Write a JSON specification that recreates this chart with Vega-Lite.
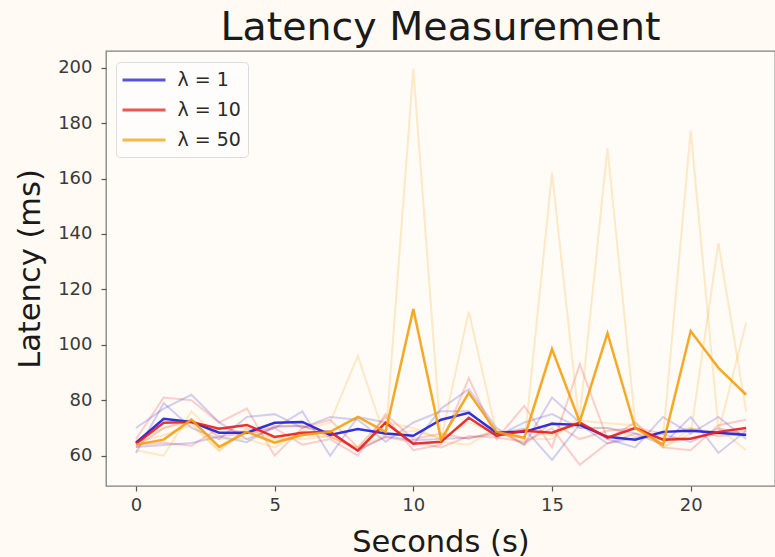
{
  "$schema": "https://vega.github.io/schema/vega-lite/v6.json",
  "width": 669,
  "height": 435,
  "autosize": {"type": "none"},
  "padding": {"left": 106, "top": 51, "right": 0, "bottom": 71},
  "background": "#fffaf4",
  "title": {"text": "Latency Measurement", "fontSize": 39.5, "font": "DejaVu Sans", "fontWeight": "normal", "color": "#1a1a1a", "offset": 3, "anchor": "middle"},
  "config": {
    "view": {"stroke": "#808080", "strokeWidth": 1.3, "fill": "#fffbf6"},
    "axis": {"grid": false, "labelFont": "DejaVu Sans", "titleFont": "DejaVu Sans", "labelFontSize": 18, "labelColor": "#3a3a3a", "titleFontSize": 30.5, "titleFontWeight": "normal", "titleColor": "#1a1a1a", "tickColor": "#555555", "tickSize": 5, "tickWidth": 1.2, "domain": false},
    "legend": {"title": null, "orient": "none", "legendX": 10, "legendY": 11, "symbolType": "M-2.15,0H2.15", "symbolSize": 400, "symbolOffset": 10, "symbolStrokeWidth": 3, "symbolOpacity": 0.75, "labelFont": "DejaVu Sans", "labelFontSize": 19, "labelColor": "#2a2a2a", "rowPadding": 8, "padding": 6.5, "fillColor": "#fffdfb", "strokeColor": "#dcdcdc", "cornerRadius": 4, "labelOffset": 22}
  },
  "datasets": {
    "runs": [
      {"series": "λ = 1", "run": "b1", "t": 0, "v": 70}, {"series": "λ = 1", "run": "b1", "t": 1, "v": 77}, {"series": "λ = 1", "run": "b1", "t": 2, "v": 82}, {"series": "λ = 1", "run": "b1", "t": 3, "v": 72}, {"series": "λ = 1", "run": "b1", "t": 4, "v": 66}, {"series": "λ = 1", "run": "b1", "t": 5, "v": 70}, {"series": "λ = 1", "run": "b1", "t": 6, "v": 76}, {"series": "λ = 1", "run": "b1", "t": 7, "v": 60}, {"series": "λ = 1", "run": "b1", "t": 8, "v": 74}, {"series": "λ = 1", "run": "b1", "t": 9, "v": 72}, {"series": "λ = 1", "run": "b1", "t": 10, "v": 64}, {"series": "λ = 1", "run": "b1", "t": 11, "v": 77}, {"series": "λ = 1", "run": "b1", "t": 12, "v": 84}, {"series": "λ = 1", "run": "b1", "t": 13, "v": 70}, {"series": "λ = 1", "run": "b1", "t": 14, "v": 64}, {"series": "λ = 1", "run": "b1", "t": 15, "v": 81}, {"series": "λ = 1", "run": "b1", "t": 16, "v": 72}, {"series": "λ = 1", "run": "b1", "t": 17, "v": 66}, {"series": "λ = 1", "run": "b1", "t": 18, "v": 63}, {"series": "λ = 1", "run": "b1", "t": 19, "v": 74}, {"series": "λ = 1", "run": "b1", "t": 20, "v": 68}, {"series": "λ = 1", "run": "b1", "t": 21, "v": 74}, {"series": "λ = 1", "run": "b1", "t": 22, "v": 66},
      {"series": "λ = 1", "run": "b2", "t": 0, "v": 61}, {"series": "λ = 1", "run": "b2", "t": 1, "v": 79}, {"series": "λ = 1", "run": "b2", "t": 2, "v": 70}, {"series": "λ = 1", "run": "b2", "t": 3, "v": 66}, {"series": "λ = 1", "run": "b2", "t": 4, "v": 74}, {"series": "λ = 1", "run": "b2", "t": 5, "v": 75}, {"series": "λ = 1", "run": "b2", "t": 6, "v": 70}, {"series": "λ = 1", "run": "b2", "t": 7, "v": 74}, {"series": "λ = 1", "run": "b2", "t": 8, "v": 73}, {"series": "λ = 1", "run": "b2", "t": 9, "v": 65}, {"series": "λ = 1", "run": "b2", "t": 10, "v": 72}, {"series": "λ = 1", "run": "b2", "t": 11, "v": 76}, {"series": "λ = 1", "run": "b2", "t": 12, "v": 76}, {"series": "λ = 1", "run": "b2", "t": 13, "v": 67}, {"series": "λ = 1", "run": "b2", "t": 14, "v": 72}, {"series": "λ = 1", "run": "b2", "t": 15, "v": 75}, {"series": "λ = 1", "run": "b2", "t": 16, "v": 70}, {"series": "λ = 1", "run": "b2", "t": 17, "v": 70}, {"series": "λ = 1", "run": "b2", "t": 18, "v": 68}, {"series": "λ = 1", "run": "b2", "t": 19, "v": 64}, {"series": "λ = 1", "run": "b2", "t": 20, "v": 74}, {"series": "λ = 1", "run": "b2", "t": 21, "v": 61}, {"series": "λ = 1", "run": "b2", "t": 22, "v": 69},
      {"series": "λ = 1", "run": "b3", "t": 0, "v": 63.1}, {"series": "λ = 1", "run": "b3", "t": 1, "v": 63.9}, {"series": "λ = 1", "run": "b3", "t": 2, "v": 64.6}, {"series": "λ = 1", "run": "b3", "t": 3, "v": 66.9}, {"series": "λ = 1", "run": "b3", "t": 4, "v": 64.9}, {"series": "λ = 1", "run": "b3", "t": 5, "v": 70.7}, {"series": "λ = 1", "run": "b3", "t": 6, "v": 70.6}, {"series": "λ = 1", "run": "b3", "t": 7, "v": 68.5}, {"series": "λ = 1", "run": "b3", "t": 8, "v": 61.8}, {"series": "λ = 1", "run": "b3", "t": 9, "v": 67}, {"series": "λ = 1", "run": "b3", "t": 10, "v": 65.6}, {"series": "λ = 1", "run": "b3", "t": 11, "v": 66}, {"series": "λ = 1", "run": "b3", "t": 12, "v": 66.5}, {"series": "λ = 1", "run": "b3", "t": 13, "v": 67.9}, {"series": "λ = 1", "run": "b3", "t": 14, "v": 69.8}, {"series": "λ = 1", "run": "b3", "t": 15, "v": 58.5}, {"series": "λ = 1", "run": "b3", "t": 16, "v": 71.3}, {"series": "λ = 1", "run": "b3", "t": 17, "v": 64.4}, {"series": "λ = 1", "run": "b3", "t": 18, "v": 66.4}, {"series": "λ = 1", "run": "b3", "t": 19, "v": 67.8}, {"series": "λ = 1", "run": "b3", "t": 20, "v": 65}, {"series": "λ = 1", "run": "b3", "t": 21, "v": 69.9}, {"series": "λ = 1", "run": "b3", "t": 22, "v": 67.5},
      {"series": "λ = 10", "run": "r1", "t": 0, "v": 66}, {"series": "λ = 10", "run": "r1", "t": 1, "v": 81}, {"series": "λ = 10", "run": "r1", "t": 2, "v": 80}, {"series": "λ = 10", "run": "r1", "t": 3, "v": 72}, {"series": "λ = 10", "run": "r1", "t": 4, "v": 77}, {"series": "λ = 10", "run": "r1", "t": 5, "v": 60}, {"series": "λ = 10", "run": "r1", "t": 6, "v": 70}, {"series": "λ = 10", "run": "r1", "t": 7, "v": 73}, {"series": "λ = 10", "run": "r1", "t": 8, "v": 63}, {"series": "λ = 10", "run": "r1", "t": 9, "v": 74}, {"series": "λ = 10", "run": "r1", "t": 10, "v": 62}, {"series": "λ = 10", "run": "r1", "t": 11, "v": 64}, {"series": "λ = 10", "run": "r1", "t": 12, "v": 88}, {"series": "λ = 10", "run": "r1", "t": 13, "v": 66}, {"series": "λ = 10", "run": "r1", "t": 14, "v": 78}, {"series": "λ = 10", "run": "r1", "t": 15, "v": 63}, {"series": "λ = 10", "run": "r1", "t": 16, "v": 93}, {"series": "λ = 10", "run": "r1", "t": 17, "v": 66}, {"series": "λ = 10", "run": "r1", "t": 18, "v": 72}, {"series": "λ = 10", "run": "r1", "t": 19, "v": 63}, {"series": "λ = 10", "run": "r1", "t": 20, "v": 62}, {"series": "λ = 10", "run": "r1", "t": 21, "v": 71}, {"series": "λ = 10", "run": "r1", "t": 22, "v": 73},
      {"series": "λ = 10", "run": "r2", "t": 0, "v": 63}, {"series": "λ = 10", "run": "r2", "t": 1, "v": 70}, {"series": "λ = 10", "run": "r2", "t": 2, "v": 73}, {"series": "λ = 10", "run": "r2", "t": 3, "v": 67}, {"series": "λ = 10", "run": "r2", "t": 4, "v": 68}, {"series": "λ = 10", "run": "r2", "t": 5, "v": 70}, {"series": "λ = 10", "run": "r2", "t": 6, "v": 64}, {"series": "λ = 10", "run": "r2", "t": 7, "v": 66}, {"series": "λ = 10", "run": "r2", "t": 8, "v": 60}, {"series": "λ = 10", "run": "r2", "t": 9, "v": 75}, {"series": "λ = 10", "run": "r2", "t": 10, "v": 66}, {"series": "λ = 10", "run": "r2", "t": 11, "v": 68}, {"series": "λ = 10", "run": "r2", "t": 12, "v": 66}, {"series": "λ = 10", "run": "r2", "t": 13, "v": 69}, {"series": "λ = 10", "run": "r2", "t": 14, "v": 64}, {"series": "λ = 10", "run": "r2", "t": 15, "v": 72}, {"series": "λ = 10", "run": "r2", "t": 16, "v": 66}, {"series": "λ = 10", "run": "r2", "t": 17, "v": 69}, {"series": "λ = 10", "run": "r2", "t": 18, "v": 70}, {"series": "λ = 10", "run": "r2", "t": 19, "v": 68}, {"series": "λ = 10", "run": "r2", "t": 20, "v": 70}, {"series": "λ = 10", "run": "r2", "t": 21, "v": 67}, {"series": "λ = 10", "run": "r2", "t": 22, "v": 68},
      {"series": "λ = 10", "run": "r3", "t": 0, "v": 63.9}, {"series": "λ = 10", "run": "r3", "t": 1, "v": 64.7}, {"series": "λ = 10", "run": "r3", "t": 2, "v": 63.6}, {"series": "λ = 10", "run": "r3", "t": 3, "v": 70.1}, {"series": "λ = 10", "run": "r3", "t": 4, "v": 68.3}, {"series": "λ = 10", "run": "r3", "t": 5, "v": 70.4}, {"series": "λ = 10", "run": "r3", "t": 6, "v": 70.9}, {"series": "λ = 10", "run": "r3", "t": 7, "v": 66.8}, {"series": "λ = 10", "run": "r3", "t": 8, "v": 62.4}, {"series": "λ = 10", "run": "r3", "t": 9, "v": 66.7}, {"series": "λ = 10", "run": "r3", "t": 10, "v": 64.9}, {"series": "λ = 10", "run": "r3", "t": 11, "v": 63}, {"series": "λ = 10", "run": "r3", "t": 12, "v": 67.1}, {"series": "λ = 10", "run": "r3", "t": 13, "v": 66.6}, {"series": "λ = 10", "run": "r3", "t": 14, "v": 65}, {"series": "λ = 10", "run": "r3", "t": 15, "v": 69.9}, {"series": "λ = 10", "run": "r3", "t": 16, "v": 56.7}, {"series": "λ = 10", "run": "r3", "t": 17, "v": 64.5}, {"series": "λ = 10", "run": "r3", "t": 18, "v": 68}, {"series": "λ = 10", "run": "r3", "t": 19, "v": 66.4}, {"series": "λ = 10", "run": "r3", "t": 20, "v": 66.3}, {"series": "λ = 10", "run": "r3", "t": 21, "v": 67.8}, {"series": "λ = 10", "run": "r3", "t": 22, "v": 69},
      {"series": "λ = 50", "run": "o1", "t": 0, "v": 62}, {"series": "λ = 50", "run": "o1", "t": 1, "v": 60}, {"series": "λ = 50", "run": "o1", "t": 2, "v": 76}, {"series": "λ = 50", "run": "o1", "t": 3, "v": 66}, {"series": "λ = 50", "run": "o1", "t": 4, "v": 66}, {"series": "λ = 50", "run": "o1", "t": 5, "v": 63}, {"series": "λ = 50", "run": "o1", "t": 6, "v": 69}, {"series": "λ = 50", "run": "o1", "t": 7, "v": 72}, {"series": "λ = 50", "run": "o1", "t": 8, "v": 96}, {"series": "λ = 50", "run": "o1", "t": 9, "v": 66}, {"series": "λ = 50", "run": "o1", "t": 10, "v": 199.7}, {"series": "λ = 50", "run": "o1", "t": 11, "v": 65}, {"series": "λ = 50", "run": "o1", "t": 12, "v": 64}, {"series": "λ = 50", "run": "o1", "t": 13, "v": 70}, {"series": "λ = 50", "run": "o1", "t": 14, "v": 64}, {"series": "λ = 50", "run": "o1", "t": 15, "v": 162.2}, {"series": "λ = 50", "run": "o1", "t": 16, "v": 70}, {"series": "λ = 50", "run": "o1", "t": 17, "v": 70}, {"series": "λ = 50", "run": "o1", "t": 18, "v": 67}, {"series": "λ = 50", "run": "o1", "t": 19, "v": 66}, {"series": "λ = 50", "run": "o1", "t": 20, "v": 177.3}, {"series": "λ = 50", "run": "o1", "t": 21, "v": 70}, {"series": "λ = 50", "run": "o1", "t": 22, "v": 62},
      {"series": "λ = 50", "run": "o2", "t": 0, "v": 65}, {"series": "λ = 50", "run": "o2", "t": 1, "v": 70}, {"series": "λ = 50", "run": "o2", "t": 2, "v": 72}, {"series": "λ = 50", "run": "o2", "t": 3, "v": 62}, {"series": "λ = 50", "run": "o2", "t": 4, "v": 70}, {"series": "λ = 50", "run": "o2", "t": 5, "v": 66}, {"series": "λ = 50", "run": "o2", "t": 6, "v": 66}, {"series": "λ = 50", "run": "o2", "t": 7, "v": 67}, {"series": "λ = 50", "run": "o2", "t": 8, "v": 63}, {"series": "λ = 50", "run": "o2", "t": 9, "v": 72}, {"series": "λ = 50", "run": "o2", "t": 10, "v": 70}, {"series": "λ = 50", "run": "o2", "t": 11, "v": 66}, {"series": "λ = 50", "run": "o2", "t": 12, "v": 112}, {"series": "λ = 50", "run": "o2", "t": 13, "v": 68}, {"series": "λ = 50", "run": "o2", "t": 14, "v": 66}, {"series": "λ = 50", "run": "o2", "t": 15, "v": 66}, {"series": "λ = 50", "run": "o2", "t": 16, "v": 74}, {"series": "λ = 50", "run": "o2", "t": 17, "v": 170.9}, {"series": "λ = 50", "run": "o2", "t": 18, "v": 72}, {"series": "λ = 50", "run": "o2", "t": 19, "v": 63}, {"series": "λ = 50", "run": "o2", "t": 20, "v": 68}, {"series": "λ = 50", "run": "o2", "t": 21, "v": 136.7}, {"series": "λ = 50", "run": "o2", "t": 22, "v": 76},
      {"series": "λ = 50", "run": "o3", "t": 0, "v": 65}, {"series": "λ = 50", "run": "o3", "t": 1, "v": 67.4}, {"series": "λ = 50", "run": "o3", "t": 2, "v": 71}, {"series": "λ = 50", "run": "o3", "t": 3, "v": 61.6}, {"series": "λ = 50", "run": "o3", "t": 4, "v": 69.8}, {"series": "λ = 50", "run": "o3", "t": 5, "v": 65.1}, {"series": "λ = 50", "run": "o3", "t": 6, "v": 67.5}, {"series": "λ = 50", "run": "o3", "t": 7, "v": 66.8}, {"series": "λ = 50", "run": "o3", "t": 8, "v": 63}, {"series": "λ = 50", "run": "o3", "t": 9, "v": 67.8}, {"series": "λ = 50", "run": "o3", "t": 10, "v": 69}, {"series": "λ = 50", "run": "o3", "t": 11, "v": 66.4}, {"series": "λ = 50", "run": "o3", "t": 12, "v": 72.1}, {"series": "λ = 50", "run": "o3", "t": 13, "v": 67.8}, {"series": "λ = 50", "run": "o3", "t": 14, "v": 69.5}, {"series": "λ = 50", "run": "o3", "t": 15, "v": 67.3}, {"series": "λ = 50", "run": "o3", "t": 16, "v": 72.6}, {"series": "λ = 50", "run": "o3", "t": 17, "v": 71.7}, {"series": "λ = 50", "run": "o3", "t": 18, "v": 71}, {"series": "λ = 50", "run": "o3", "t": 19, "v": 63}, {"series": "λ = 50", "run": "o3", "t": 20, "v": 69.7}, {"series": "λ = 50", "run": "o3", "t": 21, "v": 68.4}, {"series": "λ = 50", "run": "o3", "t": 22, "v": 108}
    ],
    "means": [
      {"series": "λ = 1", "t": 0, "v": 64.7}, {"series": "λ = 1", "t": 1, "v": 73.3}, {"series": "λ = 1", "t": 2, "v": 72.2}, {"series": "λ = 1", "t": 3, "v": 68.3}, {"series": "λ = 1", "t": 4, "v": 68.3}, {"series": "λ = 1", "t": 5, "v": 71.9}, {"series": "λ = 1", "t": 6, "v": 72.2}, {"series": "λ = 1", "t": 7, "v": 67.5}, {"series": "λ = 1", "t": 8, "v": 69.6}, {"series": "λ = 1", "t": 9, "v": 68}, {"series": "λ = 1", "t": 10, "v": 67.2}, {"series": "λ = 1", "t": 11, "v": 73}, {"series": "λ = 1", "t": 12, "v": 75.5}, {"series": "λ = 1", "t": 13, "v": 68.3}, {"series": "λ = 1", "t": 14, "v": 68.6}, {"series": "λ = 1", "t": 15, "v": 71.5}, {"series": "λ = 1", "t": 16, "v": 71.1}, {"series": "λ = 1", "t": 17, "v": 66.8}, {"series": "λ = 1", "t": 18, "v": 65.8}, {"series": "λ = 1", "t": 19, "v": 68.6}, {"series": "λ = 1", "t": 20, "v": 69}, {"series": "λ = 1", "t": 21, "v": 68.3}, {"series": "λ = 1", "t": 22, "v": 67.5},
      {"series": "λ = 10", "t": 0, "v": 64.3}, {"series": "λ = 10", "t": 1, "v": 71.9}, {"series": "λ = 10", "t": 2, "v": 72.2}, {"series": "λ = 10", "t": 3, "v": 69.7}, {"series": "λ = 10", "t": 4, "v": 71.1}, {"series": "λ = 10", "t": 5, "v": 66.8}, {"series": "λ = 10", "t": 6, "v": 68.3}, {"series": "λ = 10", "t": 7, "v": 68.6}, {"series": "λ = 10", "t": 8, "v": 61.8}, {"series": "λ = 10", "t": 9, "v": 71.9}, {"series": "λ = 10", "t": 10, "v": 64.3}, {"series": "λ = 10", "t": 11, "v": 65}, {"series": "λ = 10", "t": 12, "v": 73.7}, {"series": "λ = 10", "t": 13, "v": 67.2}, {"series": "λ = 10", "t": 14, "v": 69}, {"series": "λ = 10", "t": 15, "v": 68.3}, {"series": "λ = 10", "t": 16, "v": 71.9}, {"series": "λ = 10", "t": 17, "v": 66.5}, {"series": "λ = 10", "t": 18, "v": 70}, {"series": "λ = 10", "t": 19, "v": 65.8}, {"series": "λ = 10", "t": 20, "v": 66.1}, {"series": "λ = 10", "t": 21, "v": 68.6}, {"series": "λ = 10", "t": 22, "v": 70},
      {"series": "λ = 50", "t": 0, "v": 64}, {"series": "λ = 50", "t": 1, "v": 65.8}, {"series": "λ = 50", "t": 2, "v": 73}, {"series": "λ = 50", "t": 3, "v": 63.2}, {"series": "λ = 50", "t": 4, "v": 68.6}, {"series": "λ = 50", "t": 5, "v": 64.7}, {"series": "λ = 50", "t": 6, "v": 67.5}, {"series": "λ = 50", "t": 7, "v": 68.6}, {"series": "λ = 50", "t": 8, "v": 74}, {"series": "λ = 50", "t": 9, "v": 68.6}, {"series": "λ = 50", "t": 10, "v": 112.9}, {"series": "λ = 50", "t": 11, "v": 65.8}, {"series": "λ = 50", "t": 12, "v": 82.7}, {"series": "λ = 50", "t": 13, "v": 68.6}, {"series": "λ = 50", "t": 14, "v": 66.5}, {"series": "λ = 50", "t": 15, "v": 98.5}, {"series": "λ = 50", "t": 16, "v": 72.2}, {"series": "λ = 50", "t": 17, "v": 104.2}, {"series": "λ = 50", "t": 18, "v": 70}, {"series": "λ = 50", "t": 19, "v": 64}, {"series": "λ = 50", "t": 20, "v": 105}, {"series": "λ = 50", "t": 21, "v": 91.7}, {"series": "λ = 50", "t": 22, "v": 82}
    ]
  },
  "layer": [
    {
      "data": {"name": "runs"},
      "mark": {"type": "line", "strokeWidth": 2, "opacity": 0.2, "clip": true},
      "encoding": {
        "x": {"field": "t", "type": "quantitative", "scale": {"domain": [-1.08, 23.04], "nice": false, "zero": false}, "axis": {"values": [0, 5, 10, 15, 20], "title": "Seconds (s)", "titlePadding": 13, "labelPadding": 5}},
        "y": {"field": "v", "type": "quantitative", "scale": {"domain": [49.07, 206.03], "nice": false, "zero": false}, "axis": {"values": [60, 80, 100, 120, 140, 160, 180, 200], "title": "Latency (ms)", "titlePadding": 12, "labelPadding": 9}},
        "detail": {"field": "run"},
        "color": {"field": "series", "type": "nominal", "scale": {"domain": ["λ = 1", "λ = 10", "λ = 50"], "range": ["#1c1cd6", "#e81c1c", "#f5a00f"]}}
      }
    },
    {
      "data": {"name": "means"},
      "mark": {"type": "line", "strokeWidth": 2.5, "opacity": 0.9, "clip": true},
      "encoding": {
        "x": {"field": "t", "type": "quantitative"},
        "y": {"field": "v", "type": "quantitative"},
        "color": {"field": "series", "type": "nominal"}
      }
    }
  ]
}
